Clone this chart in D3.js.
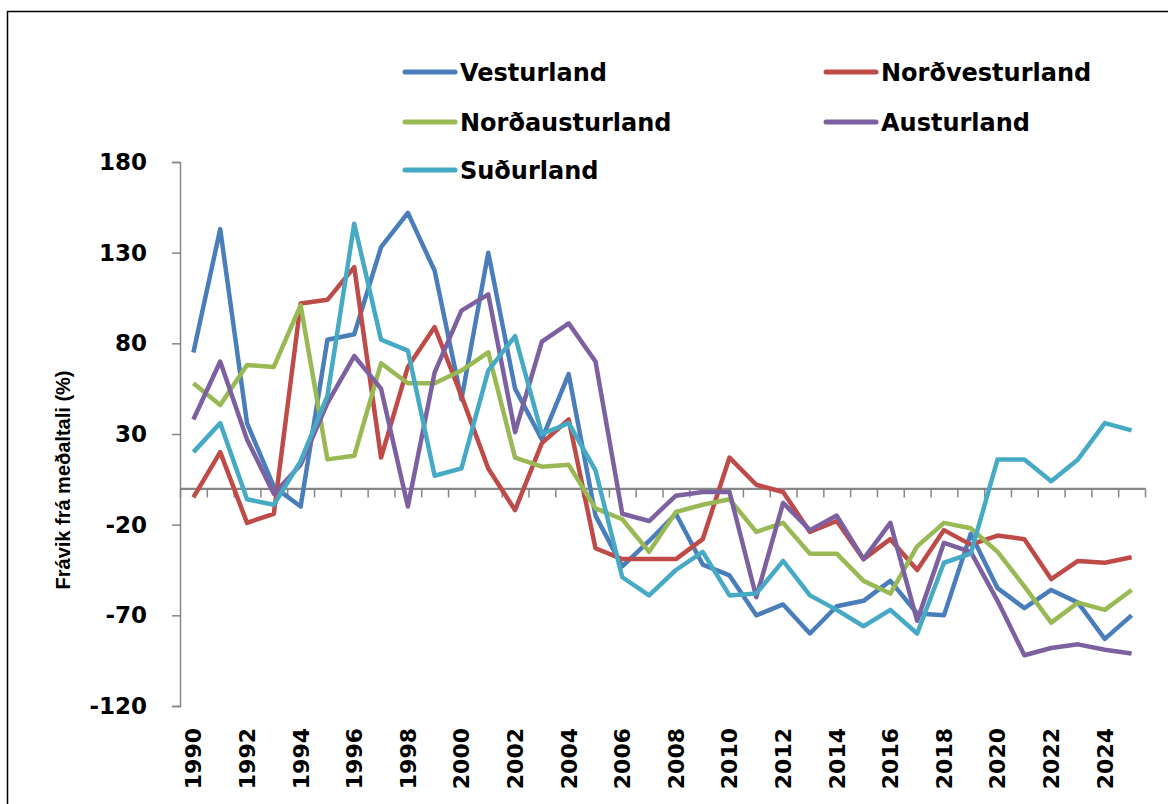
<!DOCTYPE html>
<html>
<head>
<meta charset="utf-8">
<script src="https://cdn.jsdelivr.net/npm/d3@7"></script>
<style>
body { margin: 0; background: #fff; }
text { font-family: "DejaVu Sans", Verdana, sans-serif; font-weight: bold; fill: #000; }
</style>
</head>
<body>
<svg id="chart" width="1168" height="804"></svg>
<script>
var years = d3.range(1990, 2026);

var vesturland = [75, 143, 36, 1, -10, 82, 85, 133, 152, 120, 49, 130, 55, 27, 63, -15, -43, -29, -14, -42,
	-48, -70, -64, -80, -65, -62, -51, -69, -70, -25, -55, -66, -56, -63, -83, -70];
var nordvesturland = [-5, 20, -19, -14, 102, 104, 122, 17, 67, 89, 51, 11, -12, 25, 38, -33, -39, -39, -39, -28,
	17, 2, -2, -24, -18, -39, -28, -45, -23, -31, -26, -28, -50, -40, -41, -38];
var nordausturland = [58, 46, 68, 67, 101, 16, 18, 69, 58, 58, 65, 75, 17, 12, 13, -11, -17, -35, -13, -9,
	-6, -24, -19, -36, -36, -51, -58, -32, -19, -22, -35, -54, -74, -63, -67, -56];
var austurland = [38, 70, 27, -3, 13, 47, 73, 55, -10, 64, 98, 107, 31, 81, 91, 70, -14, -18, -4, -2,
	-2, -60, -8, -23, -15, -39, -19, -73, -30, -35, -62, -92, -88, -86, -89, -91];
var sudurland = [20, 36, -6, -9, 15, 51, 146, 82, 76, 7, 11, 65, 84, 30, 36, 10, -49, -59, -45, -35,
	-59, -58, -40, -59, -67, -76, -67, -80, -41, -36, 16, 16, 4, 16, 36, 32];

var names = ["Vesturland", "Norðvesturland", "Norðausturland", "Austurland", "Suðurland"];
var colors = ["#4a7ebb", "#be4b48", "#98b954", "#7d60a0", "#46aac5"];
var yTicks = d3.range(-120, 181, 50);
var yLabel = "Frávik frá meðaltali (%)";

var series = [vesturland, nordvesturland, nordausturland, austurland, sudurland];

var svg = d3.select("#chart");

// frame
svg.append("path")
	.attr("d", "M7.5,804V11.5H1168")
	.attr("fill", "none")
	.attr("stroke", "#000")
	.attr("stroke-width", 1.5);

var x = d3.scaleBand()
	.domain(years)
	.range([180, 1145]);

var xEdge = d3.scaleLinear()
	.domain([0, years.length])
	.range([180, 1145]);

var y = d3.scaleLinear()
	.domain([-120, 180])
	.range([706, 162]);

// y axis
var yAxis = d3.axisLeft(y)
	.tickValues(yTicks)
	.tickFormat(d => String(d))
	.tickSize(8)
	.tickPadding(25);

svg.append("g")
	.attr("transform", "translate(180,0)")
	.call(yAxis)
	.call(g => g.selectAll("line, path").attr("stroke", "#868686").attr("stroke-width", 1.5))
	.call(g => g.selectAll("text").style("font-size", "23px").style("font-family", null));

// zero line with ticks between categories
var zeroAxis = d3.axisBottom(xEdge)
	.tickValues(d3.range(years.length + 1))
	.tickFormat("")
	.tickSizeInner(9)
	.tickSizeOuter(0);

svg.append("g")
	.attr("transform", `translate(0,${y(0)})`)
	.call(zeroAxis)
	.call(g => g.select(".domain").attr("stroke", "#868686").attr("stroke-width", 2.2))
	.call(g => g.selectAll(".tick line").attr("stroke", "#868686").attr("stroke-width", 1.5));

// year labels at bottom
var xAxis = d3.axisBottom(x)
	.tickValues(years.filter(d => d % 2 === 0))
	.tickSize(0);

svg.append("g")
	.attr("transform", "translate(0,706)")
	.call(xAxis)
	.call(g => g.select(".domain").remove())
	.selectAll("text")
		.style("font-size", "22px")
		.style("font-family", null)
		.attr("text-anchor", "end")
		.attr("transform", "rotate(-90)")
		.attr("x", -22)
		.attr("y", 0)
		.attr("dy", "0.36em");

// y label
svg.append("text")
	.attr("transform", "translate(70,480) rotate(-90)")
	.attr("text-anchor", "middle")
	.style("font-family", "'Liberation Sans', Arial, sans-serif")
	.style("font-size", "20px")
	.text(yLabel);

// lines
var line = d3.line()
	.x((d, i) => x(years[i]) + x.bandwidth() / 2)
	.y(d => y(d));

svg.append("g")
	.selectAll("path")
	.data(series)
	.join("path")
		.attr("d", line)
		.attr("fill", "none")
		.attr("stroke", (d, i) => colors[i])
		.attr("stroke-width", 4.5)
		.attr("stroke-linejoin", "round");

// legend
var legend = svg.append("g")
	.selectAll("g")
	.data(names)
	.join("g")
		.attr("transform", (d, i) => `translate(${i % 2 ? 826 : 405},${[72, 122, 170][Math.floor(i / 2)]})`);

legend.append("line")
	.attr("x1", 0)
	.attr("x2", 50)
	.attr("stroke", (d, i) => colors[i])
	.attr("stroke-width", 5)
	.attr("stroke-linecap", "round");

legend.append("text")
	.attr("x", 55)
	.attr("y", 8.5)
	.style("font-size", "24px")
	.text(d => d);
</script>
</body>
</html>
